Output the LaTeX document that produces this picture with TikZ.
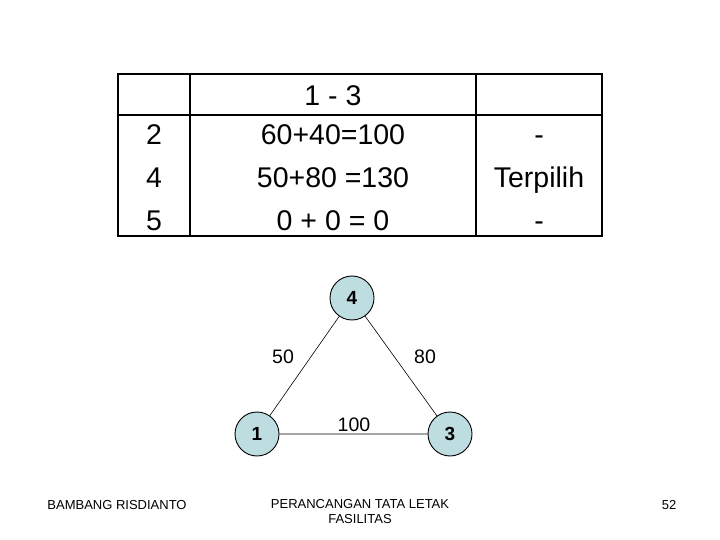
\documentclass[tikz,border=0pt]{standalone}
\usepackage{fontspec}
\setmainfont{Liberation Sans}
\begin{document}
\begin{tikzpicture}[x=1pt,y=-1pt,
  cell/.style={font=\fontsize{28.5}{42.5}\selectfont,anchor=base,inner sep=0pt},
  vert/.style={circle,draw,line width=0.9pt,fill={rgb,255:red,190;green,221;blue,224},minimum size=44pt,inner sep=0pt,font=\fontsize{19}{20}\selectfont\bfseries},
  elab/.style={font=\fontsize{19.5}{20}\selectfont},
  foot/.style={font=\fontsize{13}{15}\selectfont,align=center}]
\useasboundingbox (0,0) rectangle (720,540);
\draw[line width=2.2pt] (118,74) rectangle (602,236);
\draw[line width=1.8pt] (190,74) -- (190,236) (476,74) -- (476,236);
\draw[line width=1.8pt] (118,115) -- (602,115);
\node[cell] (h) at (333,106) {1 - 3};
\node[cell] (a1) at (154,145) {2};
\node[cell] (a2) at (154,188) {4};
\node[cell] (a3) at (154,230) {5};
\node[cell] (b1) at (333,145) {60+40=100};
\node[cell] (b2) at (333,188) {50+80 =130};
\node[cell] (b3) at (333,230) {0 + 0 = 0};
\node[cell] (c1) at (539,145) {-};
\node[cell] (c2) at (539,188) {Terpilih};
\node[cell] (c3) at (539,230) {-};
\node[vert] (n4) at (352,298) {4};
\node[vert] (n1) at (257,434) {1};
\node[vert] (n3) at (450,434) {3};
\draw[line width=0.6pt] (n4) -- (n1) (n4) -- (n3) (n1) -- (n3);
\node[elab] (l50) at (283,357) {50};
\node[elab] (l80) at (425,357) {80};
\node[elab] (l100) at (354,425) {100};
\node[foot] (f1) at (117,505) {BAMBANG RISDIANTO};
\node[foot] (f2) at (360,512) {PERANCANGAN TATA LETAK\\FASILITAS};
\node[foot] (f3) at (669,505) {52};
\end{tikzpicture}
\end{document}
